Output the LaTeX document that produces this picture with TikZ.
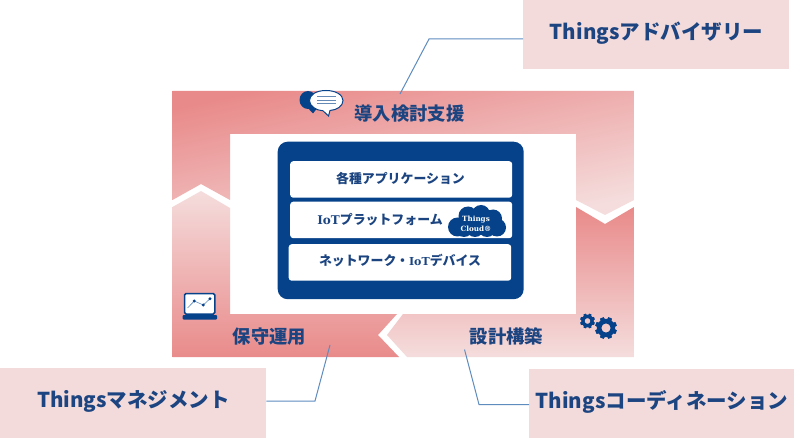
\documentclass[tikz,border=0pt]{standalone}
\usepackage{fontspec}
\setmainfont{Noto Sans CJK JP}
\newfontfamily\serifb{DejaVu Serif}
\usetikzlibrary{calc}
\definecolor{ink}{HTML}{1B4480}
\definecolor{navy}{HTML}{06428A}
\definecolor{pk}{HTML}{E98A8A}
\definecolor{pl}{HTML}{F5DDDD}
\definecolor{cal}{HTML}{F3DBDB}
\definecolor{lnk}{HTML}{5F8CBF}
\tikzset{
  callout/.style={fill=cal,inner sep=0pt,anchor=north west},
  calltext/.style={text=ink,font=\bfseries\fontsize{20.5}{24}\selectfont,inner sep=0pt},
  phase/.style={text=ink,font=\bfseries\fontsize{18.3}{22}\selectfont,inner sep=0pt},
  slab/.style={fill=white,rounded corners=3pt,inner sep=0pt,anchor=north west},
  slabtext/.style={text=ink,font=\bfseries\fontsize{12.9}{15}\selectfont,inner sep=0pt},
  link/.style={draw=lnk,line width=1pt},
  cloudtext/.style={text=white,font=\serifb\bfseries\fontsize{7.2}{9}\selectfont,inner sep=0pt}
}
\newcommand{\mygear}[3]{% cx cy r
  \draw[navy,line width=0.42*#3 pt] (#1,#2) circle[radius=0.62*#3 pt];
  \foreach \a in {0,45,...,315}{
    \fill[navy,shift={(#1,#2)},rotate=\a+22.5] (0.7*#3,-0.24*#3) -- (#3,-0.17*#3) -- (#3,0.17*#3) -- (0.7*#3,0.24*#3) -- cycle;
  }
}
\begin{document}
\begin{tikzpicture}[x=1pt,y=-1pt]
\useasboundingbox (0,0) rectangle (800,438);
\fill[white] (0,0) rectangle (800,438);
% ring pieces
\begin{scope}
\clip (172.5,91) -- (634,91) -- (634,200) -- (605,215) -- (576,200) -- (576,134) -- (230,134) -- (230,200) -- (201,184) -- (172.5,200) -- cycle;
\shade[top color=pk,bottom color=pl,shading angle=12] (172.5,91) rectangle (634,215);
\end{scope}
\begin{scope}
\clip (172.5,207) -- (201,191) -- (230,208) -- (230,314) -- (397,314) -- (378,335) -- (399,357) -- (172.5,357) -- cycle;
\shade[top color=pl,bottom color=pk] (172.5,191) rectangle (399,357);
\end{scope}
\begin{scope}
\clip (576,207) -- (605,224) -- (634,207) -- (634,357) -- (407,357) -- (387,335) -- (403,314) -- (576,314) -- cycle;
\shade[top color=pk,bottom color=pl] (387,207) rectangle (634,357);
\end{scope}
% centre panel
\node[fill=navy,rounded corners=10pt,inner sep=0pt,anchor=north west,minimum width=246pt,minimum height=157.5pt] (panel) at (277.5,141.5) {};
\node[slab,minimum width=222pt,minimum height=36.5pt] (app) at (290,161) {};
\node[slab,minimum width=222pt,minimum height=36.5pt] (iot) at (290,201.5) {};
\node[slab,minimum width=222.5pt,minimum height=36.5pt] (net) at (288.5,244) {};
\node[slabtext] (apptext) at (400.5,179) {各種アプリケーション};
\node[slabtext] (iottext) at (380,219.5) {{\serifb\fontsize{12}{15}\selectfont IoT}プラットフォーム};
\node[slabtext] (nettext) at (400,261) {ネットワーク・{\serifb\fontsize{11}{15}\selectfont IoT}デバイス};
% cloud
\fill[navy] (457.5,227) circle[radius=9.5pt] (468,216) circle[radius=9.5pt] (481,214) circle[radius=9pt] (493,218.5) circle[radius=9pt] (497,227.5) circle[radius=9pt] (487,228) circle[radius=9pt] (475,228) circle[radius=9pt] (464,228) circle[radius=9pt] (478,222) circle[radius=12pt];
\node[cloudtext] (cloud1) at (476,219.5) {Things};
\node[cloudtext] (cloud2) at (476,228.5) {Cloud®};
% phase labels
\node[phase] (p1) at (409.5,114) {導入検討支援};
\node[phase] (p2) at (269.5,337) {保守運用};
\node[phase] (p3) at (506.5,336) {設計構築};
% chat icon
\fill[navy] (308,100) ellipse[x radius=8.5pt,y radius=9pt];
\fill[navy] (306,106) -- (313,113.5) -- (318,107) -- cycle;
\fill[white,draw=navy,line width=1pt] (326,90.5) .. controls (316,90.5) and (309.5,95) .. (309.5,100.5) .. controls (309.5,106) and (316,110.5) .. (323,110.8) -- (328.5,116) -- (330,110.5) .. controls (337,110) and (343,106) .. (343,100.5) .. controls (343,95) and (336,90.5) .. (326,90.5) -- cycle;
\draw[color=lnk!85!gray,line width=1pt] (317,96.8) -- (336,96.8) (317,100.5) -- (336,100.5) (317,104) -- (336,104);
% laptop icon
\draw[navy,fill=white,line width=1.5pt,rounded corners=1.5pt] (184.5,293.5) rectangle (214.8,314);
\fill[navy,rounded corners=1pt] (182.5,315) rectangle (217,319.5);
\draw[lnk,line width=0.6pt] (187.5,308) -- (194.3,301) -- (203.3,305) -- (210,298.7);
\fill[navy] (194.3,301) circle[radius=1.6pt] (203.3,305) circle[radius=1.6pt] (210,298.7) circle[radius=1.6pt];
% gears
\mygear{587.5}{321}{7.5}
\mygear{606}{328}{11}
% callouts
\node[callout,minimum width=266pt,minimum height=69pt] (adv) at (523,0) {};
\node[callout,minimum width=266pt,minimum height=70pt] (mgt) at (0,367.5) {};
\node[callout,minimum width=265pt,minimum height=69pt] (coo) at (529,369) {};
\node[calltext] (advt) at (656.5,33) {Thingsアドバイザリー};
\node[calltext] (mgtt) at (133.5,401) {Thingsマネジメント};
\node[calltext] (coot) at (662,402) {Thingsコーディネーション};
% connectors
\coordinate (a1) at ($(adv.north west)+(0,39)$);
\coordinate (a2) at (429,39);
\coordinate (a3) at (400,94);
\coordinate (b1) at ($(mgt.north east)+(0,33.5)$);
\coordinate (b2) at (315,401);
\coordinate (b3) at (330,345);
\coordinate (c1) at ($(coo.north west)+(0,35.5)$);
\coordinate (c2) at (479,404.5);
\coordinate (c3) at (464.5,349.5);
\draw[link] (a1) -- (a2) -- (a3);
\draw[link] (b1) -- (b2) -- (b3);
\draw[link] (c1) -- (c2) -- (c3);
\end{tikzpicture}
\end{document}
